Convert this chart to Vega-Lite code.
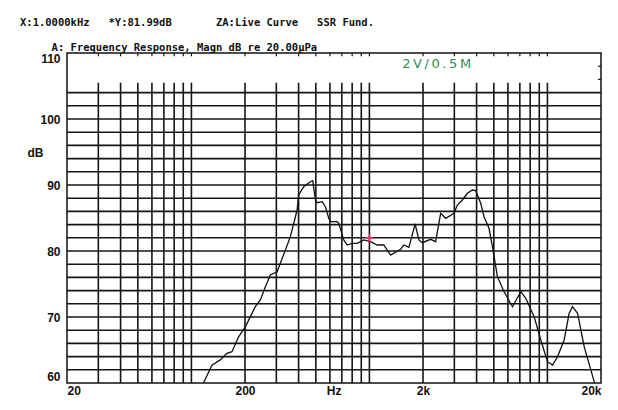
{
  "$schema": "https://vega.github.io/schema/vega-lite/v6.json",
  "autosize": "none",
  "width": 534,
  "height": 330,
  "padding": {"left": 67, "top": 53, "right": 17, "bottom": 27},
  "background": "white",
  "config": {"view": {"stroke": "#111", "strokeWidth": 1.5}},
  "title": {
    "text": "X:1.0000kHz\u00a0\u00a0\u00a0*Y:81.99dB\u00a0\u00a0\u00a0\u00a0\u00a0\u00a0\u00a0ZA:Live Curve\u00a0\u00a0\u00a0SSR Fund.",
    "subtitle": "\u200b\u00a0\u00a0\u00a0\u00a0\u00a0A: Frequency Response, Magn dB re 20.00\u00b5Pa",
    "anchor": "start",
    "frame": "group",
    "dx": -47,
    "offset": -1,
    "font": "DejaVu Sans Mono",
    "fontSize": 10.5,
    "fontWeight": "bold",
    "color": "#111",
    "subtitleFont": "DejaVu Sans Mono",
    "subtitleFontSize": 10.5,
    "subtitleFontWeight": "bold",
    "subtitleColor": "#111",
    "subtitlePadding": 14
  },
  "datasets": {
    "vgrid": [
      {"f": 30}, {"f": 40}, {"f": 50}, {"f": 60}, {"f": 70}, {"f": 80}, {"f": 90}, {"f": 100},
      {"f": 200}, {"f": 300}, {"f": 400}, {"f": 500}, {"f": 600}, {"f": 700}, {"f": 800}, {"f": 900}, {"f": 1000},
      {"f": 2000}, {"f": 3000}, {"f": 4000}, {"f": 5000}, {"f": 6000}, {"f": 7000}, {"f": 8000}, {"f": 9000}, {"f": 10000}
    ],
    "hgrid": [
      {"db": 62}, {"db": 64}, {"db": 66}, {"db": 68}, {"db": 70}, {"db": 72}, {"db": 74}, {"db": 76},
      {"db": 78}, {"db": 80}, {"db": 82}, {"db": 84}, {"db": 86}, {"db": 88}, {"db": 90}, {"db": 92},
      {"db": 94}, {"db": 96}, {"db": 98}, {"db": 100}, {"db": 102}, {"db": 104}
    ],
    "curve": [
      {"f": 117, "db": 60.05}, {"f": 130.4, "db": 62.7}, {"f": 145.2, "db": 63.5}, {"f": 158.4, "db": 64.5},
      {"f": 169, "db": 64.74}, {"f": 184.1, "db": 67.0}, {"f": 200.8, "db": 68.5}, {"f": 228.6, "db": 71.56},
      {"f": 244, "db": 72.58}, {"f": 260.2, "db": 74.59}, {"f": 277.6, "db": 76.36}, {"f": 302.8, "db": 76.86},
      {"f": 316, "db": 78.14}, {"f": 337.2, "db": 80.15}, {"f": 359.8, "db": 82.17}, {"f": 392.4, "db": 86.21},
      {"f": 400.6, "db": 88.48}, {"f": 427.4, "db": 89.74}, {"f": 466.2, "db": 90.5}, {"f": 480.4, "db": 90.65},
      {"f": 497.4, "db": 87.73}, {"f": 508.4, "db": 87.32}, {"f": 542.6, "db": 87.47}, {"f": 566.2, "db": 86.71},
      {"f": 591, "db": 84.95}, {"f": 604, "db": 84.44}, {"f": 658.8, "db": 84.44}, {"f": 672.6, "db": 84.2},
      {"f": 717.6, "db": 81.67}, {"f": 750, "db": 80.91}, {"f": 800.2, "db": 81.17}, {"f": 853.6, "db": 81.17},
      {"f": 929.8, "db": 81.67}, {"f": 1014, "db": 81.41}, {"f": 1106, "db": 80.91}, {"f": 1205, "db": 80.91},
      {"f": 1314, "db": 79.39}, {"f": 1496, "db": 80.26}, {"f": 1561, "db": 80.91}, {"f": 1666, "db": 80.56},
      {"f": 1806, "db": 84.09}, {"f": 1897, "db": 81.67}, {"f": 1982, "db": 81.26}, {"f": 2208, "db": 81.77},
      {"f": 2355, "db": 81.41}, {"f": 2513, "db": 85.71}, {"f": 2682, "db": 84.95}, {"f": 2986, "db": 85.71},
      {"f": 3120, "db": 86.97}, {"f": 3328, "db": 87.73}, {"f": 3552, "db": 88.74}, {"f": 3789, "db": 89.24},
      {"f": 3954, "db": 89.14}, {"f": 4220, "db": 87.23}, {"f": 4404, "db": 85.2}, {"f": 4698, "db": 83.44},
      {"f": 4910, "db": 80.65}, {"f": 5238, "db": 76.11}, {"f": 5706, "db": 73.83}, {"f": 6364, "db": 71.56},
      {"f": 7084, "db": 73.83}, {"f": 7560, "db": 72.83}, {"f": 8418, "db": 70.05}, {"f": 9180, "db": 66.52},
      {"f": 10012, "db": 63.23}, {"f": 10682, "db": 62.73}, {"f": 11398, "db": 63.98}, {"f": 12418, "db": 66.52},
      {"f": 13246, "db": 70.56}, {"f": 13842, "db": 71.56}, {"f": 14772, "db": 70.56}, {"f": 16088, "db": 65.5},
      {"f": 18312, "db": 60.2}, {"f": 18600, "db": 59.5}
    ]
  },
  "layer": [
    {
      "data": {"name": "hgrid"},
      "mark": {"type": "rule", "stroke": "#151515", "strokeWidth": 1.6},
      "encoding": {
        "y": {
          "field": "db", "type": "quantitative",
          "scale": {"domain": [60, 110], "nice": false, "zero": false},
          "axis": {
            "values": [60, 70, 80, 90, 100, 110],
            "labelFlush": true,
            "ticks": false,
            "domain": false,
            "grid": false,
            "labelPadding": 7,
            "labelFont": "Liberation Sans",
            "labelFontSize": 12,
            "labelFontWeight": "bold",
            "labelColor": "#111",
            "title": "dB",
            "titleAngle": 0,
            "titleX": -24,
            "titleY": 99,
            "titleAlign": "right",
            "titleBaseline": "middle",
            "titleFont": "Liberation Sans",
            "titleFontSize": 12,
            "titleFontWeight": "bold",
            "titleColor": "#111"
          }
        },
        "x": {
          "datum": 20, "type": "quantitative",
          "scale": {"type": "log", "domain": [20, 20000], "nice": false},
          "axis": {
            "values": [20, 200, 630, 2000, 20000],
            "labelExpr": "datum.value == 630 ? 'Hz' : datum.value >= 1000 ? (datum.value / 1000) + 'k' : datum.value",
            "labelFlush": true,
            "ticks": false,
            "domain": false,
            "grid": false,
            "title": null,
            "labelPadding": 2,
            "labelFont": "Liberation Sans",
            "labelFontSize": 12,
            "labelFontWeight": "bold",
            "labelColor": "#111"
          }
        },
        "x2": {"datum": 20000}
      }
    },
    {
      "data": {"name": "vgrid"},
      "mark": {"type": "rule", "stroke": "#151515", "strokeWidth": 1.6},
      "encoding": {
        "x": {"field": "f", "type": "quantitative", "title": null, "scale": {"type": "log", "domain": [20, 20000], "nice": false}},
        "y": {"datum": 60, "type": "quantitative", "scale": {"domain": [60, 110], "nice": false, "zero": false}},
        "y2": {"datum": 105.5}
      }
    },
    {
      "data": {"name": "vgrid"},
      "mark": {"type": "rule", "stroke": "#151515", "strokeWidth": 1.2},
      "encoding": {
        "x": {"field": "f", "type": "quantitative", "title": null, "scale": {"type": "log", "domain": [20, 20000], "nice": false}},
        "y": {"datum": 110, "type": "quantitative", "scale": {"domain": [60, 110], "nice": false, "zero": false}},
        "y2": {"datum": 109.5}
      }
    },
    {
      "data": {"values": [{"db": 106}, {"db": 108}]},
      "mark": {"type": "rule", "stroke": "#151515", "strokeWidth": 1.2},
      "encoding": {
        "y": {"field": "db", "type": "quantitative", "scale": {"domain": [60, 110], "nice": false, "zero": false}},
        "x": {"datum": 19230, "type": "quantitative", "title": null, "scale": {"type": "log", "domain": [20, 20000], "nice": false}},
        "x2": {"datum": 20000}
      }
    },
    {
      "data": {"name": "curve"},
      "mark": {"type": "line", "stroke": "#111", "strokeWidth": 1.3, "clip": true},
      "encoding": {
        "x": {"field": "f", "type": "quantitative", "title": null, "scale": {"type": "log", "domain": [20, 20000], "nice": false}},
        "y": {"field": "db", "type": "quantitative", "scale": {"domain": [60, 110], "nice": false, "zero": false}}
      }
    },
    {
      "data": {"values": [{"f": 1000, "db": 81.99}]},
      "mark": {"type": "point", "shape": "M-1,0L1,0M0,-1L0,1", "size": 70, "stroke": "#e03070", "strokeWidth": 1.6, "filled": false, "opacity": 1},
      "encoding": {
        "x": {"field": "f", "type": "quantitative", "title": null, "scale": {"type": "log", "domain": [20, 20000], "nice": false}},
        "y": {"field": "db", "type": "quantitative", "scale": {"domain": [60, 110], "nice": false, "zero": false}}
      }
    },
    {
      "data": {"values": [{"f": 2386, "db": 108.3, "label": "2\u2009V\u2009/\u20090\u2009.\u20095\u2009M"}]},
      "mark": {"type": "text", "font": "DejaVu Sans", "fontSize": 13, "fontWeight": "normal", "color": "#2e8b57", "align": "center", "baseline": "middle"},
      "encoding": {
        "x": {"field": "f", "type": "quantitative", "title": null, "scale": {"type": "log", "domain": [20, 20000], "nice": false}},
        "y": {"field": "db", "type": "quantitative", "scale": {"domain": [60, 110], "nice": false, "zero": false}},
        "text": {"field": "label"}
      }
    }
  ]
}
